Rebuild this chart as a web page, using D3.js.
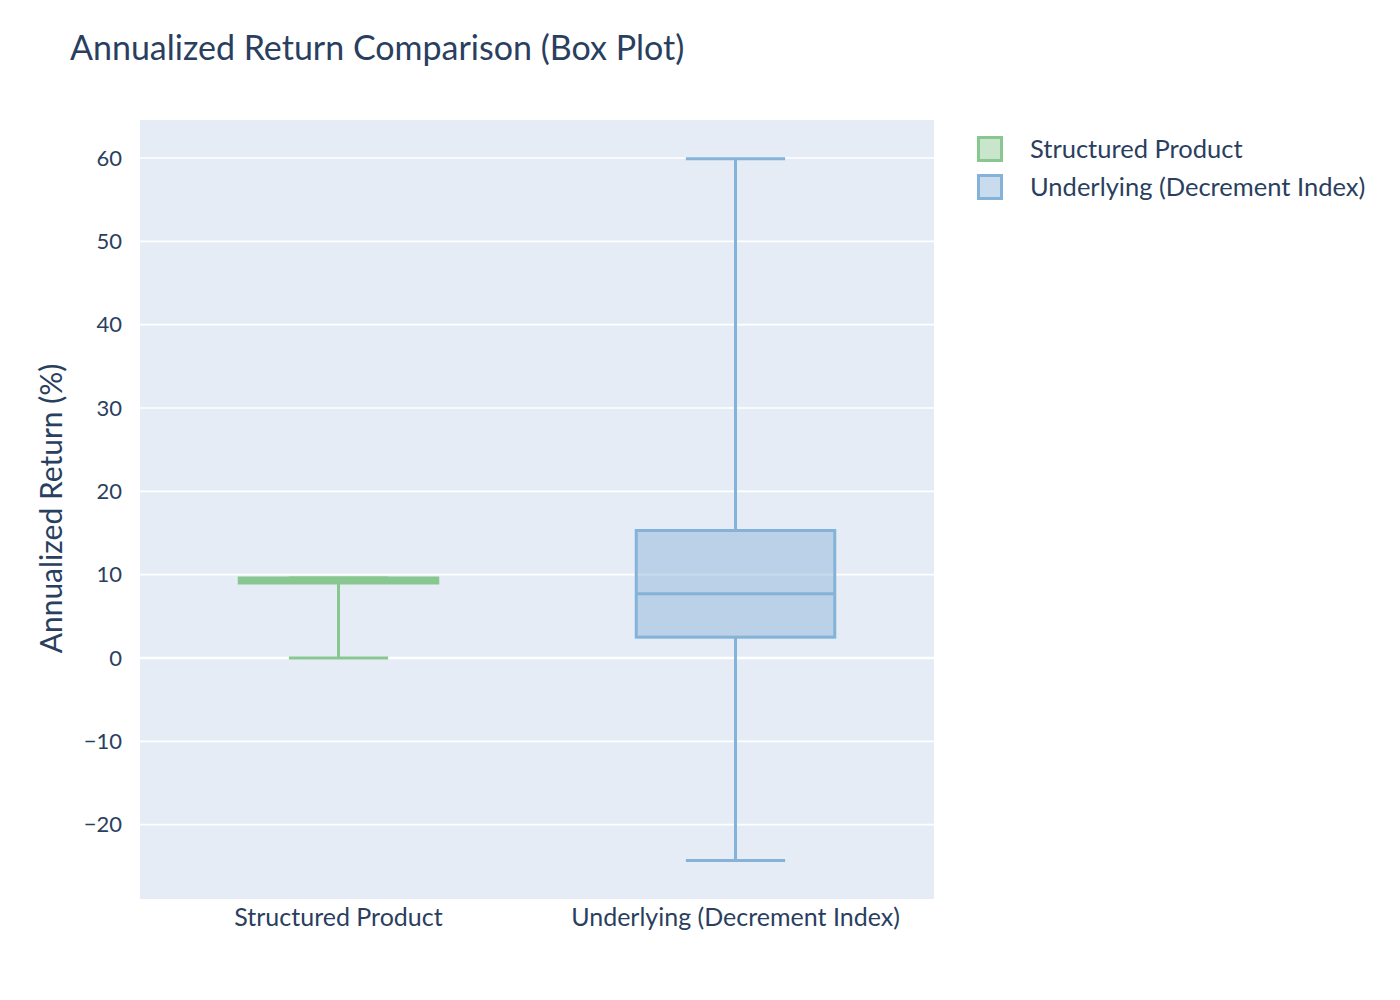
<!DOCTYPE html>
<html><head><meta charset="utf-8">
<script src="https://cdn.jsdelivr.net/npm/d3@7"></script>
<style>body{margin:0;background:#fff;} text{font-family:"Source Sans Pro","Lato","Noto Sans",sans-serif;fill:#2a3f5f;}</style>
</head><body>
<svg id="c" width="1400" height="1000"></svg>
<script>
const categories = ["Structured Product", "Underlying (Decrement Index)"];
const mins    = [0, -24.3];
const q1s     = [9.0, 2.5];
const medians = [9.3, 7.7];
const q3s     = [9.6, 15.3];
const maxs    = [9.6, 59.9];
const strokeColors = ["#88c890", "#84b2d8"];
const fillColors = ["rgba(136,200,144,0.45)", "rgba(132,178,216,0.45)"];
const yTicks = [-20, -10, 0, 10, 20, 30, 40, 50, 60];

const svg = d3.select("#c");
const L = 140, R = 934, T = 120, B = 899;
svg.append("rect").attr("x", L).attr("y", T).attr("width", R - L).attr("height", B - T).attr("fill", "#e5ecf6");

const y = d3.scaleLinear().domain([-28.92, 64.56]).range([B, T]);
const x = d3.scaleBand().domain(categories).range([L, R]);

// grid
svg.append("g").selectAll("line").data(yTicks).join("line")
  .attr("x1", L).attr("x2", R).attr("y1", d => y(d)).attr("y2", d => y(d))
  .attr("stroke", "#fff").attr("stroke-width", d => d === 0 ? 2.6 : 1.6);

// y axis
const yAxis = d3.axisLeft(y).tickValues(yTicks).tickSize(0).tickPadding(18)
  .tickFormat(d => d < 0 ? "\u2212" + Math.abs(d) : d);
const ya = svg.append("g").attr("transform", `translate(${L},0)`).call(yAxis);
ya.select(".domain").remove();
ya.selectAll("text").attr("font-size", 22).style("fill", "#2a3f5f").attr("font-family", null);

// x axis
const xAxis = d3.axisBottom(x).tickSize(0).tickPadding(9);
const xa = svg.append("g").attr("transform", `translate(0,${B})`).call(xAxis);
xa.select(".domain").remove();
xa.selectAll("text").attr("font-size", 25).style("fill", "#2a3f5f").attr("font-family", null);

// boxes
const data = categories.map((c, i) => ({c, min: mins[i], q1: q1s[i], med: medians[i], q3: q3s[i], max: maxs[i], i}));
const boxW = x.bandwidth() * 0.5, capW = boxW * 0.5;
data.forEach(d => {
  const cx = x(d.c) + x.bandwidth() / 2;
  const g = svg.append("g").attr("stroke", strokeColors[d.i]).attr("stroke-width", 3);
  g.append("line").attr("x1", cx).attr("x2", cx).attr("y1", y(d.max)).attr("y2", y(d.q3));
  g.append("line").attr("x1", cx).attr("x2", cx).attr("y1", y(d.q1)).attr("y2", y(d.min));
  g.append("line").attr("x1", cx - capW / 2).attr("x2", cx + capW / 2).attr("y1", y(d.max)).attr("y2", y(d.max));
  g.append("line").attr("x1", cx - capW / 2).attr("x2", cx + capW / 2).attr("y1", y(d.min)).attr("y2", y(d.min));
  g.append("rect").attr("x", cx - boxW / 2).attr("width", boxW)
    .attr("y", y(d.q3)).attr("height", y(d.q1) - y(d.q3)).attr("fill", fillColors[d.i]);
  g.append("line").attr("x1", cx - boxW / 2).attr("x2", cx + boxW / 2).attr("y1", y(d.med)).attr("y2", y(d.med));
});

// title
svg.append("text").attr("x", 70).attr("y", 60).attr("font-size", 34).text("Annualized Return Comparison (Box Plot)");
// y title
svg.append("text").attr("transform", `translate(62,${(T + B) / 2 - 1}) rotate(-90)`).attr("text-anchor", "middle")
  .attr("font-size", 30).text("Annualized Return (%)");

// legend
const lg = svg.append("g").attr("transform", "translate(977,136)");
categories.forEach((c, i) => {
  const row = lg.append("g").attr("transform", `translate(0,${i * 38})`);
  row.append("rect").attr("x", 1.5).attr("y", 1.5).attr("width", 23).attr("height", 23)
    .attr("fill", fillColors[i]).attr("stroke", strokeColors[i]).attr("stroke-width", 3);
  row.append("text").attr("x", 53).attr("y", 22).attr("font-size", 25.5).text(c);
});
</script>
</body></html>
